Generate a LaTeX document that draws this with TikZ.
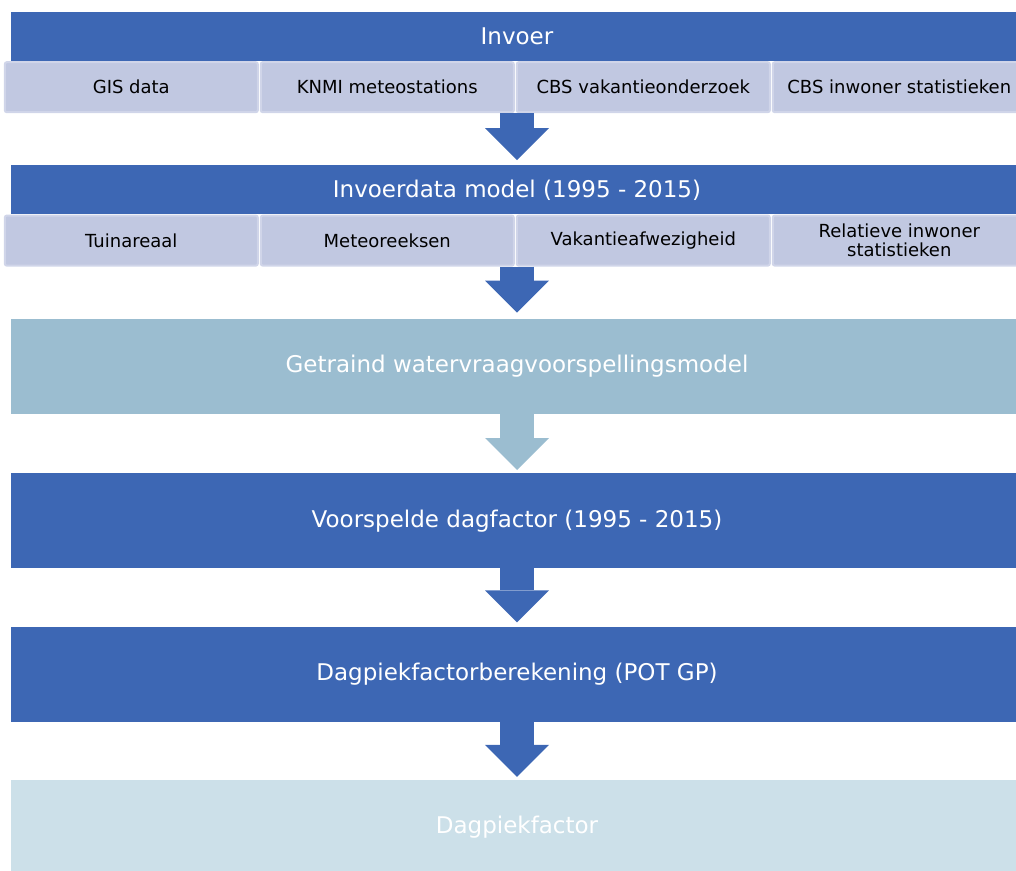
\documentclass[tikz,border=0pt]{standalone}
\usepackage{fontspec}
\setmainfont{DejaVu Sans}
\usetikzlibrary{positioning,arrows.meta}

\definecolor{kopblauw}{RGB}{61,103,180}
\definecolor{subblauw}{RGB}{193,200,225}
\definecolor{randblauw}{RGB}{208,213,233}
\definecolor{grijsblauw}{RGB}{155,189,208}
\definecolor{lichtblauw}{RGB}{204,224,233}

\begin{document}
\begin{tikzpicture}[node distance=52pt, every node/.style={font=\fontsize{18}{19}\selectfont,inner sep=0pt}]
\tikzstyle{kop}=[fill=kopblauw,text=white,minimum width=1012pt,minimum height=49pt,font=\fontsize{23}{26}\selectfont]
\tikzstyle{sub}=[fill=subblauw,draw=randblauw,line width=2pt,rounded corners=2pt,minimum width=253pt,minimum height=50pt,align=center]
\tikzstyle{stap}=[kop,minimum height=95pt]
\tikzstyle{pijl}=[line width=34pt,-{Triangle[width=64pt,length=32pt,line width=0pt]},shorten >=3pt]
\useasboundingbox (0,0) rectangle (1016pt,-870pt);

\node[kop] (invoer) at (517pt,-36.5pt) {Invoer};
\node[sub,anchor=north west] (gis) at ([xshift=-7pt]invoer.south west) {GIS data};
\node[sub,right=1pt of gis] (knmi) {KNMI meteostations};
\node[sub,right=1pt of knmi] (vakantie) {CBS vakantieonderzoek};
\node[sub,right=1pt of vakantie] (inwoners) {CBS inwoner statistieken};

\node[kop,below=104pt of invoer] (invoerdata) {Invoerdata model (1995 - 2015)};
\node[sub,anchor=north west] (tuin) at ([xshift=-7pt]invoerdata.south west) {Tuinareaal};
\node[sub,right=1pt of tuin] (meteo) {Meteoreeksen};
\node[sub,right=1pt of meteo] (afwezig) {Vakantieafwezigheid};
\node[sub,right=1pt of afwezig] (relatief) {Relatieve inwoner\\statistieken};

\node[stap,fill=grijsblauw,below=104pt of invoerdata] (getraind) {Getraind watervraagvoorspellingsmodel};
\node[stap,below=59pt of getraind] (voorspeld) {Voorspelde dagfactor (1995 - 2015)};
\node[stap,below=58pt of voorspeld] (berekening) {Dagpiekfactorberekening (POT GP)};
\node[stap,fill=lichtblauw,below=58pt of berekening] (factor) {Dagpiekfactor};

\draw[pijl,kopblauw,shorten >=5pt] (invoer.south |- gis.south) -- (invoerdata);
\draw[pijl,kopblauw,shorten >=6pt] (invoerdata.south |- tuin.south) -- (getraind);
\draw[pijl,grijsblauw] (getraind) -- (voorspeld);
\draw[pijl,kopblauw,shorten >=4pt] (voorspeld) -- (berekening);
\draw[pijl,kopblauw] (berekening) -- (factor);
\end{tikzpicture}
\end{document}
